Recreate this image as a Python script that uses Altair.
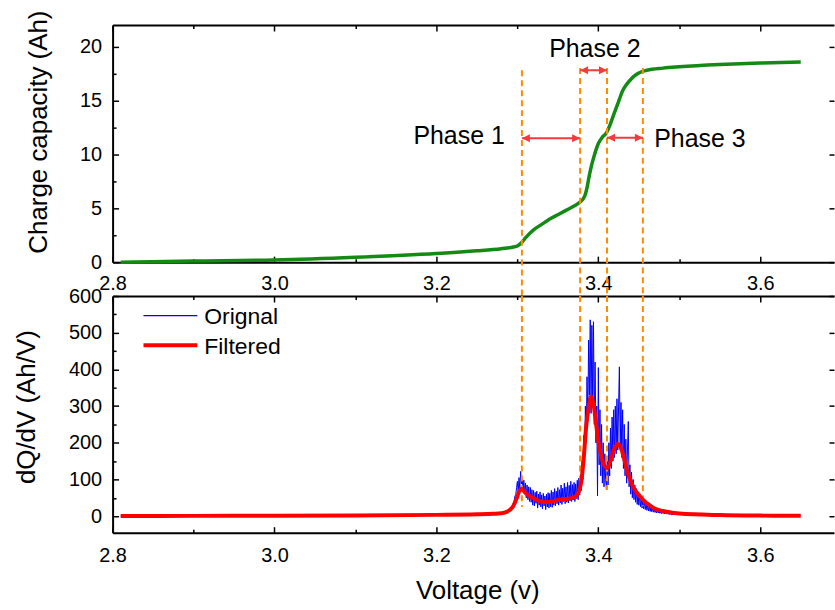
import altair as alt
import numpy as np
import pandas as pd

# ---------------- data ----------------
cap_v = [2.81, 2.9, 3.0, 3.1, 3.2, 3.25, 3.28, 3.295, 3.30, 3.305, 3.31, 3.32, 3.33,
         3.34, 3.35, 3.36, 3.37, 3.377, 3.383, 3.386, 3.389, 3.392, 3.395, 3.40,
         3.405, 3.41, 3.415, 3.42, 3.425, 3.43, 3.435, 3.44, 3.445, 3.45, 3.46,
         3.48, 3.5, 3.55, 3.6, 3.65]
cap_ah = [0.0, 0.1, 0.2, 0.45, 0.8, 1.05, 1.25, 1.4, 1.5, 1.8, 2.25, 3.0, 3.5,
          4.0, 4.4, 4.8, 5.2, 5.55, 6.1, 6.9, 8.1, 9.1, 9.9, 11.0,
          11.6, 12.0, 12.85, 13.9, 14.9, 15.9, 16.5, 16.95, 17.3, 17.55, 17.8,
          18.0, 18.12, 18.33, 18.47, 18.56]

filt_v = [2.81, 2.9, 3.0, 3.1, 3.2, 3.25, 3.27, 3.28, 3.285, 3.29, 3.295, 3.299,
          3.302, 3.305, 3.309, 3.314, 3.319, 3.325, 3.335, 3.345, 3.352, 3.36,
          3.368, 3.373, 3.376, 3.379, 3.382, 3.385, 3.388, 3.391, 3.394, 3.397,
          3.40, 3.404, 3.408, 3.411, 3.415, 3.42, 3.424, 3.428, 3.432, 3.436,
          3.44, 3.445, 3.45, 3.455, 3.46, 3.465, 3.47, 3.48, 3.49, 3.5, 3.55,
          3.6, 3.65]
filt_dqdv = [0.5, 0.8, 1.2, 2, 3.5, 5, 6.5, 8, 10, 16, 28, 48,
             66, 75, 66, 56, 50, 43, 38, 41, 45, 47,
             50, 56, 68, 95, 160, 245, 295, 326, 305, 255,
             205, 160, 136, 131, 150, 185, 197, 185, 155, 120,
             95, 72, 58, 45, 35, 27, 20, 14, 10, 7, 3,
             1.5, 1]

# original (noisy) signal: flat parts + samples every 1 mV from 3.290 V to 3.490 V
orig_v_low = [2.81, 2.9, 3.0, 3.1, 3.2, 3.25, 3.27, 3.28, 3.285]
orig_low = [0.5, 0.8, 1.2, 2, 3.5, 5, 6.5, 8, 10]
orig_noisy = [
    14, 20, 15, 24, 26, 36, 40, 55, 58, 78,
    95, 62, 105, 75, 122, 88, 100, 70, 98, 60,
    90, 50, 85, 45, 80, 40, 78, 38, 72, 30,
    70, 28, 65, 35, 68, 22, 60, 30, 66, 25,
    58, 20, 62, 28, 55, 18, 60, 25, 64, 22,
    62, 26, 70, 24, 66, 30, 75, 28, 68, 34,
    78, 30, 72, 36, 85, 32, 76, 40, 90, 34,
    80, 38, 92, 36, 84, 42, 95, 40, 86, 44,
    92, 40, 88, 48, 98, 45, 104, 58, 110, 70,
    150, 100, 220, 150, 300, 200, 380, 260, 480, 330,
    535, 280, 520, 320, 530, 250, 420, 200, 300, 55,
    405, 140, 290, 110, 250, 90, 200, 80, 170, 100,
    72, 160, 85, 200, 110, 240, 130, 270, 150, 290,
    160, 300, 170, 320, 180, 300, 407, 190, 310, 160,
    290, 130, 250, 110, 210, 90, 180, 258, 80, 140,
    60, 120, 50, 100, 45, 85, 38, 75, 32, 66,
    30, 58, 26, 52, 22, 46, 20, 40, 18, 35,
    16, 32, 14, 28, 13, 25, 12, 22, 11, 19,
    10, 17, 9, 15, 9, 13, 8, 12, 7, 11,
    7, 10, 6, 9, 6, 8, 5, 7, 5, 6, 4]
orig_v_noisy = list(np.round(3.290 + 0.001 * np.arange(len(orig_noisy)), 3))
orig_v_high = [3.5, 3.55, 3.6, 3.65]
orig_high = [7, 3, 1.5, 1]

phase_bounds = [3.3056, 3.3775, 3.4107, 3.455]
phase_top = [17.8, 18.0, 18.0, 18.0]
phase_bottom = [25, 72, 72, 27]
phase_names = ["Phase 1", "Phase 2", "Phase 3"]
phase_label_x = [3.228, 3.3957, 3.5255]
phase_label_y = [11.0, 19.0, 10.7]
arrow_y = [11.5, 17.8, 11.55]

legend_labels = ["Orignal", "Filtered"]

x_major = [2.8, 3.0, 3.2, 3.4, 3.6]
x_minor = [2.9, 3.1, 3.3, 3.5]
cap_major = [0, 5, 10, 15, 20]
cap_minor = [2.5, 7.5, 12.5, 17.5]
dq_major = [0, 100, 200, 300, 400, 500, 600]
dq_minor = [50, 150, 250, 350, 450, 550]

# ---------------- styling ----------------
FONT = "Liberation Sans"
W = 724
H1 = 238
H2 = 237.5
XDOM = [2.8, 3.6911]
CAPDOM = [0, 22]
DQDOM = [-45, 600]
GREEN = "#138a13"
ORANGE = "#ff8c00"
ARROW = "#f03c3c"
BLUE = "#0000ff"
RED = "#ff0000"

xs = alt.Scale(domain=XDOM, nice=False, zero=False)


def tick_axis(orient, values, size):
    return alt.Axis(orient=orient, values=values, offset=-size, tickSize=size,
                    tickWidth=1.5, tickColor="black", domain=False, labels=False,
                    grid=False, title=None)


def axis_layers(ydom, ymaj, ymin, ylabel_axis, xlabel_axis):
    ys = alt.Scale(domain=ydom, nice=False, zero=False)
    d = pd.DataFrame({"ax": [XDOM[0]], "ay": [ydom[0]]})
    base = alt.Chart(d).mark_point(opacity=0)
    top_dom = alt.Axis(orient="top", values=x_major, ticks=False, labels=False,
                       domain=True, domainColor="black", domainWidth=2,
                       grid=False, title=None)
    layers = [
        base.encode(x=alt.X("ax:Q", scale=xs, axis=xlabel_axis),
                    y=alt.Y("ay:Q", scale=ys, axis=ylabel_axis)),
        base.encode(x=alt.X("ax:Q", scale=xs, axis=tick_axis("bottom", x_major, 6)),
                    y=alt.Y("ay:Q", scale=ys, axis=tick_axis("left", ymaj, 6))),
        base.encode(x=alt.X("ax:Q", scale=xs, axis=tick_axis("bottom", x_minor, 3.5)),
                    y=alt.Y("ay:Q", scale=ys, axis=tick_axis("left", ymin, 3.5))),
        base.encode(x=alt.X("ax:Q", scale=xs, axis=top_dom),
                    y=alt.Y("ay:Q", scale=ys, axis=tick_axis("right", ymaj, 5))),
        base.encode(x=alt.X("ax:Q", scale=xs, axis=tick_axis("top", x_major, 6)),
                    y=alt.Y("ay:Q", scale=ys, axis=None)),
        base.encode(x=alt.X("ax:Q", scale=xs, axis=tick_axis("top", x_minor, 3.5)),
                    y=alt.Y("ay:Q", scale=ys, axis=None)),
    ]
    return layers, ys


# ---------------- top panel ----------------
top_xaxis = alt.Axis(orient="bottom", values=x_major, format=".1f", ticks=False,
                     domain=True, domainColor="black", domainWidth=2,
                     labelFontSize=20, labelPadding=11, labelFlush=False,
                     labelColor="black", grid=False, title=None)
top_yaxis = alt.Axis(orient="left", values=cap_major, format="d", ticks=False,
                     domain=True, domainColor="black", domainWidth=2,
                     labelFontSize=20, labelPadding=11, labelColor="black",
                     grid=False, title="Charge capacity (Ah)", titleFontSize=26,
                     titleFontWeight="normal", titleColor="black", titleX=-66,
                     titleY=107, titleAngle=270, titleBaseline="alphabetic",
                     titleAlign="center")
top_axes, ys_top = axis_layers(CAPDOM, cap_major, cap_minor, top_yaxis, top_xaxis)

cap_df = pd.DataFrame({"v": cap_v, "q": cap_ah})
green = alt.Chart(cap_df).mark_line(color=GREEN, strokeWidth=3.5,
                                    interpolate="monotone").encode(
    x=alt.X("v:Q", scale=xs, axis=None), y=alt.Y("q:Q", scale=ys_top, axis=None))

vl_top = pd.DataFrame({"v": phase_bounds, "y1": phase_top,
                       "y2": [CAPDOM[0] - 34 / (H1 / (CAPDOM[1] - CAPDOM[0]))] * 4})
dash_top = alt.Chart(vl_top).mark_rule(color=ORANGE, strokeWidth=2,
                                       strokeDash=[6, 4]).encode(
    x=alt.X("v:Q", scale=xs, axis=None), y=alt.Y("y1:Q", scale=ys_top, axis=None),
    y2="y2:Q")

arr_df = pd.DataFrame({"a": phase_bounds[:-1], "b": phase_bounds[1:], "y": arrow_y})
arr_line = alt.Chart(arr_df).mark_rule(color=ARROW, strokeWidth=2).encode(
    x=alt.X("a:Q", scale=xs, axis=None), x2="b:Q",
    y=alt.Y("y:Q", scale=ys_top, axis=None))
head_r = alt.Chart(arr_df).mark_point(shape="M0,0L-1,-0.5L-1,0.5Z", filled=True,
                                      size=256, color=ARROW, opacity=1).encode(
    x=alt.X("b:Q", scale=xs, axis=None), y=alt.Y("y:Q", scale=ys_top, axis=None))
head_l = alt.Chart(arr_df).mark_point(shape="M0,0L1,-0.5L1,0.5Z", filled=True,
                                      size=256, color=ARROW, opacity=1).encode(
    x=alt.X("a:Q", scale=xs, axis=None), y=alt.Y("y:Q", scale=ys_top, axis=None))

lab_df = pd.DataFrame({"t": phase_names, "x": phase_label_x, "y": phase_label_y})
labels = alt.Chart(lab_df).mark_text(fontSize=25, font=FONT, color="black",
                                     align="center", baseline="alphabetic").encode(
    x=alt.X("x:Q", scale=xs, axis=None), y=alt.Y("y:Q", scale=ys_top, axis=None),
    text="t:N")

top = alt.layer(*top_axes, green, dash_top, arr_line, head_r, head_l, labels).resolve_axis(
    x="independent", y="independent").properties(width=W, height=H1)

# ---------------- bottom panel ----------------
bot_xaxis = alt.Axis(orient="bottom", values=x_major, format=".1f", ticks=False,
                     domain=True, domainColor="black", domainWidth=2,
                     labelFontSize=20, labelPadding=12.5, labelFlush=False,
                     labelColor="black", grid=False, title="Voltage (v)",
                     titleFontSize=26, titleFontWeight="normal", titleColor="black",
                     titleX=366, titleY=66.5, titleBaseline="alphabetic",
                     titleAlign="center")
bot_yaxis = alt.Axis(orient="left", values=dq_major, format="d", ticks=False,
                     domain=True, domainColor="black", domainWidth=2,
                     labelFontSize=20, labelPadding=11, labelColor="black",
                     grid=False, title="dQ/dV (Ah/V)", titleFontSize=26,
                     titleFontWeight="normal", titleColor="black", titleX=-78,
                     titleY=111, titleAngle=270, titleBaseline="alphabetic",
                     titleAlign="center")
bot_axes, ys_bot = axis_layers(DQDOM, dq_major, dq_minor, bot_yaxis, bot_xaxis)

orig_df = pd.DataFrame({"v": orig_v_low + orig_v_noisy + orig_v_high,
                        "d": orig_low + orig_noisy + orig_high})
blue = alt.Chart(orig_df).mark_line(color=BLUE, strokeWidth=1).encode(
    x=alt.X("v:Q", scale=xs, axis=None), y=alt.Y("d:Q", scale=ys_bot, axis=None))

filt_df = pd.DataFrame({"v": filt_v, "d": filt_dqdv})
red = alt.Chart(filt_df).mark_line(color=RED, strokeWidth=4,
                                   interpolate="monotone").encode(
    x=alt.X("v:Q", scale=xs, axis=None), y=alt.Y("d:Q", scale=ys_bot, axis=None))

vl_bot = pd.DataFrame({"v": phase_bounds, "y1": [DQDOM[1]] * 4, "y2": phase_bottom})
dash_bot = alt.Chart(vl_bot).mark_rule(color=ORANGE, strokeWidth=2,
                                       strokeDash=[6, 4]).encode(
    x=alt.X("v:Q", scale=xs, axis=None), y=alt.Y("y1:Q", scale=ys_bot, axis=None),
    y2="y2:Q")

one = pd.DataFrame({"k": [0]})
leg_blue = alt.Chart(one).mark_rule(color=BLUE, strokeWidth=1.3).encode(
    x=alt.value(31), x2=alt.value(85), y=alt.value(19.7))
leg_red = alt.Chart(one).mark_rule(color=RED, strokeWidth=4).encode(
    x=alt.value(31), x2=alt.value(85), y=alt.value(49.4))
leg_t1 = alt.Chart(one).mark_text(text=legend_labels[0], fontSize=23, font=FONT,
                                  color="black", align="left",
                                  baseline="alphabetic").encode(
    x=alt.value(92), y=alt.value(28.2))
leg_t2 = alt.Chart(one).mark_text(text=legend_labels[1], fontSize=23, font=FONT,
                                  color="black", align="left",
                                  baseline="alphabetic").encode(
    x=alt.value(92), y=alt.value(57.7))

bottom = alt.layer(*bot_axes, blue, dash_bot, red, leg_blue, leg_red, leg_t1,
                   leg_t2).resolve_axis(x="independent", y="independent").properties(
    width=W, height=H2)

chart = alt.vconcat(top, bottom, spacing=34, bounds="flush").properties(
    padding={"left": 14, "top": 8, "right": 0, "bottom": 0},
    background="white",
).configure(font=FONT).configure_view(strokeWidth=0)

chart.save("out.html", embed_options={"renderer": "svg", "actions": False})
